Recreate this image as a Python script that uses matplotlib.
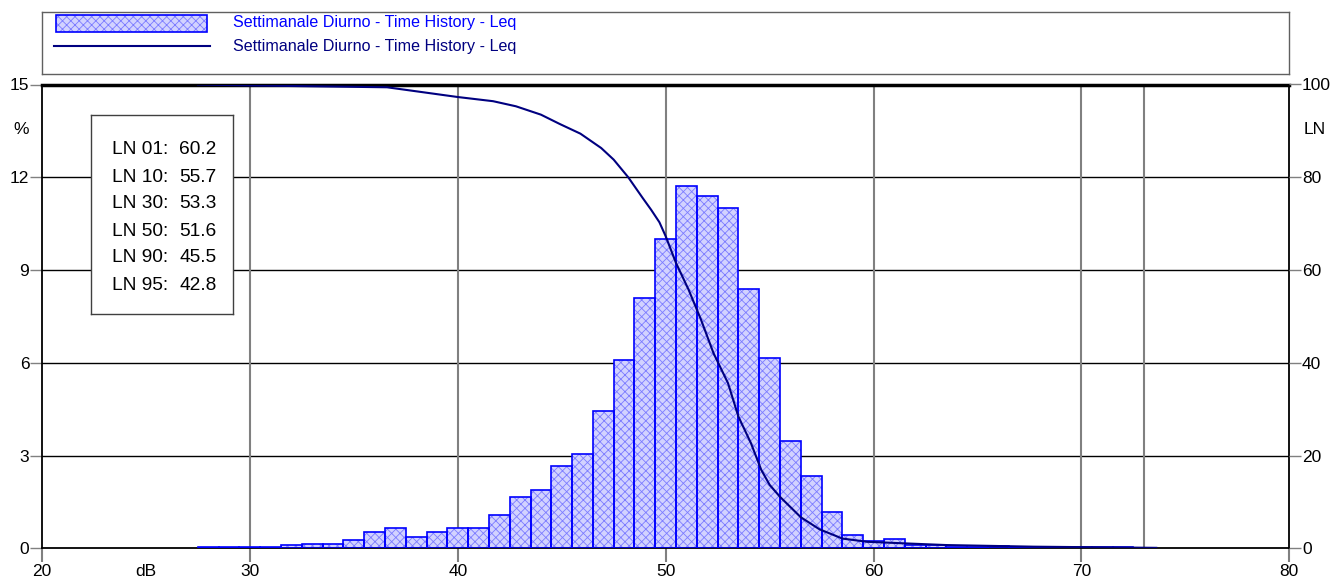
import matplotlib
matplotlib.use("Agg")
import matplotlib.pyplot as plt
from matplotlib.patches import Rectangle

plt.rcParams['font.family'] = ['Liberation Sans', 'DejaVu Sans']
plt.rcParams['hatch.linewidth'] = 0.6

# --- dati: distribuzione livelli (dB, % tempo) ---
livelli = [28, 29, 30, 31, 32, 33, 34, 35, 36, 37, 38, 39, 40, 41, 42, 43, 44, 45,
           46, 47, 48, 49, 50, 51, 52, 53, 54, 55, 56, 57, 58, 59, 60, 61, 62, 63,
           64, 65, 66, 67, 68, 69, 70, 71, 72, 73]
percentuali = [0.04, 0.04, 0.04, 0.04, 0.10, 0.14, 0.14, 0.26, 0.53, 0.67, 0.38, 0.54,
               0.65, 0.67, 1.09, 1.65, 1.89, 2.66, 3.04, 4.44, 6.09, 8.11, 10.0, 11.73,
               11.40, 11.01, 8.40, 6.17, 3.46, 2.33, 1.17, 0.43, 0.25, 0.31, 0.11, 0.11,
               0.05, 0.04, 0.06, 0.05, 0.04, 0.04, 0.04, 0.03, 0.03, 0.02]

# curva cumulativa LN (dB, % superamento)
ln_db = [27.5, 30.0, 36.6, 40.0, 41.7, 42.8, 44.0, 44.9, 45.9, 46.9, 47.5, 48.2, 48.9,
         49.3, 49.7, 50.0, 50.5, 51.1, 51.7, 52.3, 53.0, 53.5, 54.1, 54.6, 55.0, 55.5,
         56.5, 57.4, 58.5, 59.7, 61.3, 63.5, 67.7, 73.6]
ln_val = [100.0, 99.8, 99.4, 97.3, 96.4, 95.3, 93.5, 91.5, 89.4, 86.3, 83.8, 80.0, 75.5,
          73.0, 70.3, 67.3, 61.5, 55.8, 49.3, 42.1, 35.6, 28.4, 22.7, 16.9, 13.7, 11.1,
          6.7, 4.1, 2.1, 1.4, 1.1, 0.7, 0.35, 0.1]

ln_nomi = ["LN 01:", "LN 10:", "LN 30:", "LN 50:", "LN 90:", "LN 95:"]
ln_livelli = ["60.2", "55.7", "53.3", "51.6", "45.5", "42.8"]

etichetta = "Settimanale Diurno - Time History - Leq"
x_ticks = [20, 30, 40, 50, 60, 70, 80]
y_ticks = [0, 3, 6, 9, 12, 15]
y2_ticks = [0, 20, 40, 60, 80, 100]
marcatore_db = 73

BLU = '#0000ff'
NAVY = '#000080'
GRIGIO = '#808080'
RIEMPI = '#d2d2ff'
PUNTI = '#7c7cff'

fig = plt.figure(figsize=(13.34, 5.8), dpi=100)
W, H = 1334, 580
ax = fig.add_axes([42 / W, (H - 548.3) / H, (1289.3 - 42) / W, (548.3 - 84.5) / H])

# istogramma: riempimento puntinato + contorno blu
ax.bar(livelli, percentuali, width=1.0, color=RIEMPI, edgecolor=PUNTI,
       hatch='xxxx', linewidth=0, zorder=2)
ax.bar(livelli, percentuali, width=1.0, fill=False, edgecolor=BLU, linewidth=1.2, zorder=3)

ax.set_xlim(20, 80)
ax.set_ylim(0, 15)
ax.set_xticks(x_ticks)
ax.set_yticks(y_ticks)
ax.set_xticks([25], labels=['dB'], minor=True)
ax.set_axisbelow(True)
for y in y_ticks[1:-1]:
    ax.axhline(y, color='black', linewidth=1.0, zorder=1)
for x in x_ticks[1:-1]:
    ax.axvline(x, color=GRIGIO, linewidth=1.5, zorder=1)
ax.axvline(marcatore_db, color=GRIGIO, linewidth=1.5, zorder=1)

ax.tick_params(axis='x', which='major', length=10, width=1.5, color=GRIGIO, labelsize=12.5, pad=1.5)
ax.tick_params(axis='x', which='minor', length=0, labelsize=12.5, pad=11.5)
ax.tick_params(axis='y', length=8.6, width=1, color=GRIGIO, labelsize=12.5, pad=0.5)
for s in ['left', 'right', 'bottom']:
    ax.spines[s].set_linewidth(1.3)
ax.spines['top'].set_linewidth(2.5)

ax.text(-0.017, 13.55, '%', transform=ax.get_yaxis_transform(), ha='center', va='center',
        fontsize=12.5)

ax2 = ax.twinx()
ax2.plot(ln_db, ln_val, color=NAVY, linewidth=1.5, zorder=4)
ax2.set_ylim(0, 100)
ax2.set_yticks(y2_ticks)
ax2.tick_params(axis='y', length=8.6, width=1, color=GRIGIO, labelsize=12.5, pad=0.5)
for s in ax2.spines.values():
    s.set_visible(False)
ax2.text(1.02, 90.3, 'LN', transform=ax2.get_yaxis_transform(), ha='center', va='center',
         fontsize=12.5)

# riquadro valori LN
box = fig.add_axes([91 / W, (H - 314) / H, 142 / W, 199 / H])
box.set_xlim(0, 142)
box.set_ylim(199, 0)
box.set_xticks([])
box.set_yticks([])
for s in box.spines.values():
    s.set_color('#404040')
    s.set_linewidth(1)
for i, (n, v) in enumerate(zip(ln_nomi, ln_livelli)):
    yy = 35 + i * 27
    box.text(21, yy, n, fontsize=13.8, va='center', ha='left')
    box.text(88, yy, v, fontsize=13.8, va='center', ha='left')

# legenda
leg = fig.add_axes([42 / W, (H - 74) / H, (1289.3 - 42) / W, 62 / H])
leg.set_xlim(0, 1247)
leg.set_ylim(62, 0)
leg.set_xticks([])
leg.set_yticks([])
for s in leg.spines.values():
    s.set_color('#606060')
    s.set_linewidth(1)
leg.add_patch(Rectangle((14, 2.5), 151, 17.5, facecolor=RIEMPI, edgecolor=PUNTI,
                        hatch='xxxx', linewidth=0))
leg.add_patch(Rectangle((14, 2.5), 151, 17.5, fill=False, edgecolor=BLU, linewidth=1.2))
leg.plot([12, 168], [34, 34], color=NAVY, linewidth=1.5)
leg.text(191, 11, etichetta, color=BLU, fontsize=11.6, va='center', ha='left')
leg.text(191, 34, etichetta, color=NAVY, fontsize=11.6, va='center', ha='left')

fig.savefig('out.png', dpi=100)
